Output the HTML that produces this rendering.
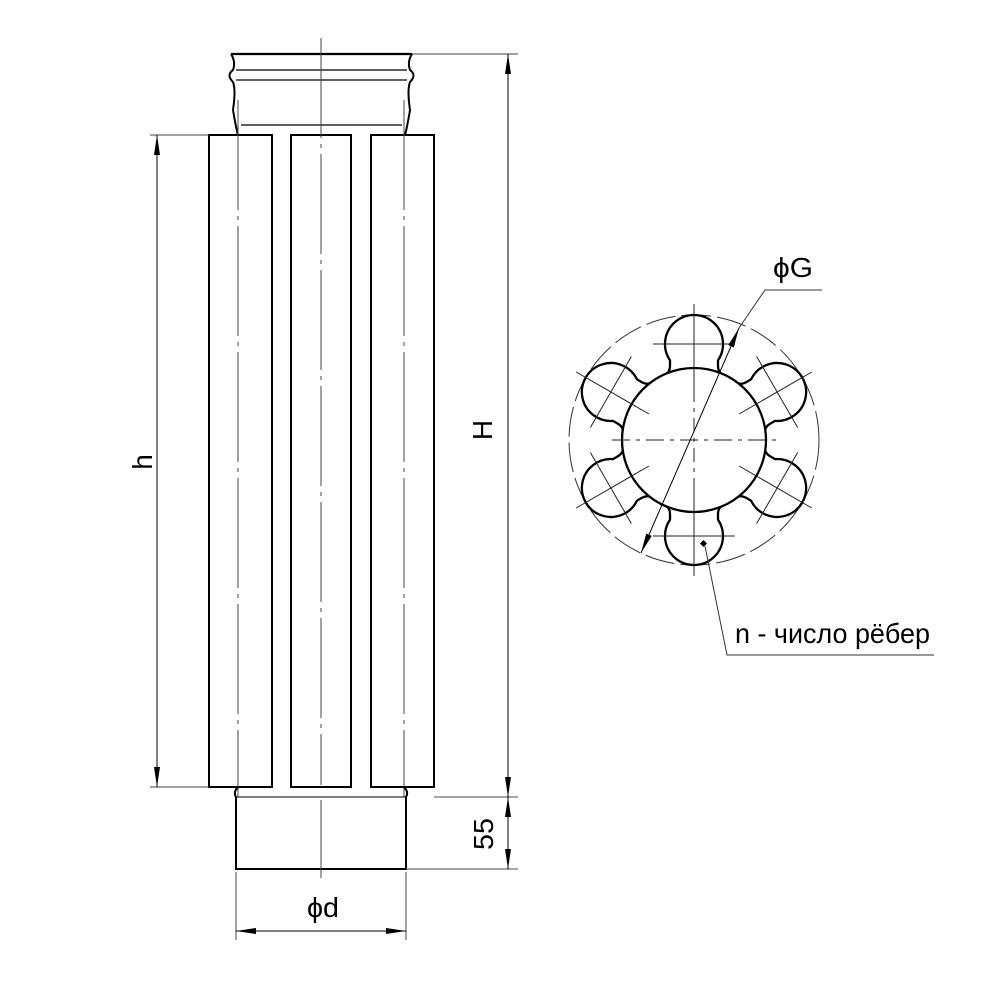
<!DOCTYPE html>
<html><head><style>html,body{margin:0;padding:0;background:#fff}svg{display:block}</style></head>
<body>
<svg width="1000" height="1000" viewBox="0 0 1000 1000" xmlns="http://www.w3.org/2000/svg">
<defs>
<marker id="a" viewBox="0 0 20 6" refX="20" refY="3" markerWidth="20" markerHeight="6" markerUnits="userSpaceOnUse" orient="auto"><path d="M0,0 L20,3 L0,6 Z" fill="#000"/></marker>
<marker id="as" viewBox="0 0 20 6" refX="0" refY="3" markerWidth="20" markerHeight="6" markerUnits="userSpaceOnUse" orient="auto"><path d="M20,0 L0,3 L20,6 Z" fill="#000"/></marker>
</defs>
<g fill="none" stroke="#000">
<path d="M231,54 L412,54" stroke-width="2.2"/>
<path d="M231,54 Q236,62 233,70 Q226,75 233,82 Q236,90 233,110 Q236,128 238,135" stroke-width="2"/>
<path d="M412,54 Q407,62 410,70 Q417,75 410,82 Q407,90 410,110 Q407,128 405,135" stroke-width="2"/>
<path d="M236,70H407M236,80H407M241,125H402" stroke-width="1.2"/>
<rect x="209" y="135" width="63" height="652" stroke-width="2"/>
<rect x="291" y="135" width="60" height="652" stroke-width="2"/>
<rect x="371" y="135" width="63" height="652" stroke-width="2"/>
<path d="M238,100V797M404,100V797" stroke="#444" stroke-width="1" stroke-dasharray="110,6,4,6"/>
<path d="M238,787 Q233,792 236,797 V869 H406 V797 Q409,792 404,787" stroke-width="2"/>
<path d="M236,797H406" stroke-width="1"/>
<path d="M321,38V785" stroke="#444" stroke-width="1" stroke-dasharray="100,6,4,6"/>
<path d="M321,800V878" stroke="#444" stroke-width="1"/>
<g stroke="#444" stroke-width="1">
<path d="M412,54H518M434,797H518M406,869H518M150,135H209M150,787H209M236,872V940M406,872V940"/>
</g>
<g stroke="#000" stroke-width="1">
<line x1="508" y1="54" x2="508" y2="797" marker-start="url(#as)" marker-end="url(#a)"/>
<line x1="508" y1="797" x2="508" y2="869" marker-start="url(#as)" marker-end="url(#a)"/>
<line x1="157" y1="135" x2="157" y2="787" marker-start="url(#as)" marker-end="url(#a)"/>
<line x1="236" y1="931" x2="406" y2="931" marker-start="url(#as)" marker-end="url(#a)"/>
</g>
</g>
<g font-family="Liberation Sans, sans-serif" font-size="28" fill="#000">
<text x="0" y="0" transform="translate(492,430) rotate(-90)" text-anchor="middle">H</text>
<text x="0" y="0" transform="translate(152,462) rotate(-90)" text-anchor="middle">h</text>
<text x="0" y="0" transform="translate(493,834) rotate(-90)" text-anchor="middle" textLength="32" lengthAdjust="spacingAndGlyphs">55</text>
<text x="307" y="917" textLength="32" lengthAdjust="spacingAndGlyphs">ϕd</text>
<text x="773" y="277" textLength="40" lengthAdjust="spacingAndGlyphs">ϕG</text>
<text x="735" y="643" textLength="195" lengthAdjust="spacingAndGlyphs">n - число рёбер</text>
</g>
<g transform="translate(694,440)">
<circle r="125" fill="none" stroke="#333" stroke-width="1" stroke-dasharray="30,6"/>
<g stroke="#000" stroke-width="2.3" fill="#fff">
<path id="l" d="M-38,-61.2 Q-24,-64 -24,-74 L-24,-79.7 A29,29 0 1 1 24,-79.7 L24,-74 Q24,-64 38,-61.2 Z"/>
<use href="#l" transform="rotate(60)"/><use href="#l" transform="rotate(120)"/><use href="#l" transform="rotate(180)"/><use href="#l" transform="rotate(240)"/><use href="#l" transform="rotate(300)"/>
<circle r="72"/>
</g>
<g stroke="#222" stroke-width="1" fill="none">
<g id="c"><path d="M0,-136V-52"/><path d="M-41,-96H41"/></g>
<use href="#c" transform="rotate(60)"/><use href="#c" transform="rotate(120)"/><use href="#c" transform="rotate(180)"/><use href="#c" transform="rotate(240)"/><use href="#c" transform="rotate(300)"/>
<path d="M-82,0H82" stroke-dasharray="18,6,4,6"/>
<path d="M0,-52V52" stroke-dasharray="14,6,4,6"/>
</g>
<line x1="-53" y1="113" x2="45" y2="-112" stroke="#000" stroke-width="1" marker-start="url(#as)" marker-end="url(#a)"/>
<path d="M45,-112 L71,-150 H128" stroke="#333" stroke-width="1" fill="none"/>
<rect x="7" y="101" width="5" height="5" transform="rotate(45 9.5 103.5)" fill="#000"/>
<path d="M11,106 L33,215 H240" stroke="#333" stroke-width="1" fill="none"/>
</g>
</svg>
</body></html>
